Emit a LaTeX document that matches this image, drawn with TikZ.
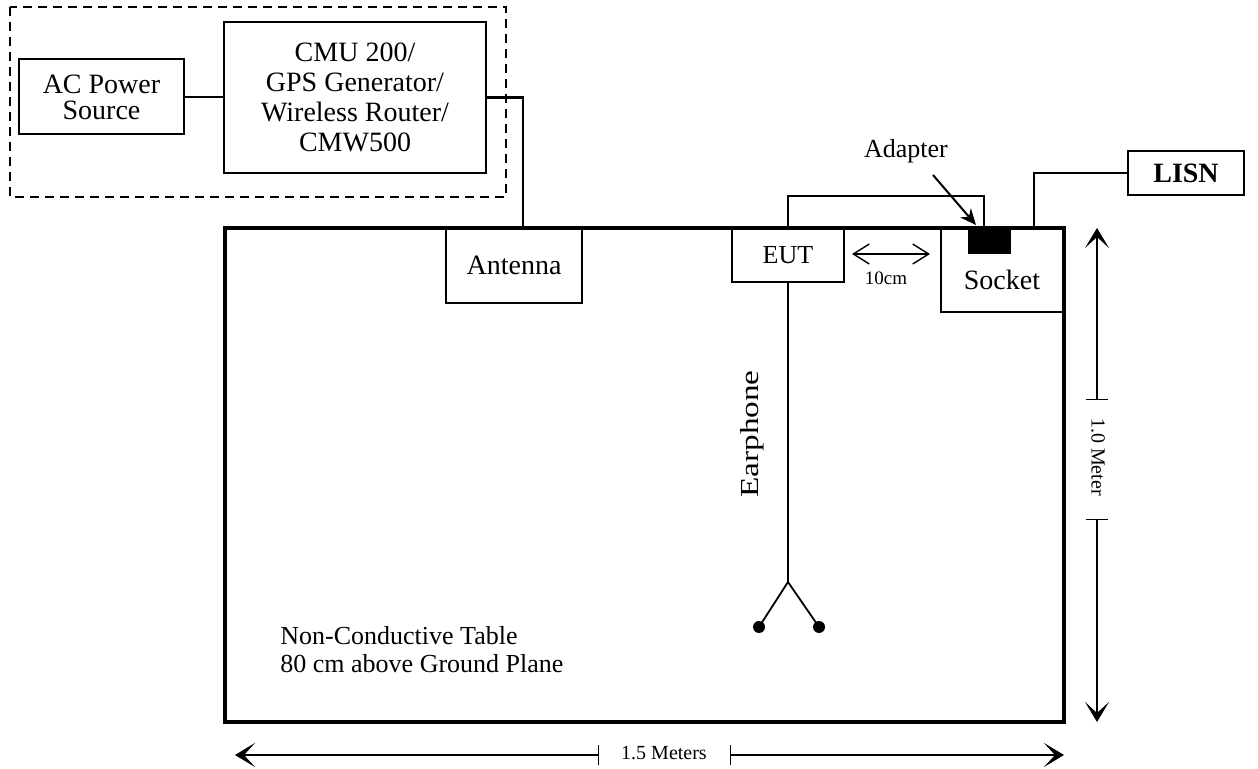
\documentclass[tikz,border=0pt]{standalone}
\usepackage{fontspec}
\setmainfont{Liberation Serif}
\usetikzlibrary{arrows.meta,calc}

\begin{document}
\begin{tikzpicture}[x=0.5pt,y=-0.5pt,
  box/.style={draw,line width=1pt,inner sep=0pt,align=center},
  bigtxt/.style={font=\fontsize{14}{15}\selectfont},
  midtxt/.style={font=\fontsize{13}{14}\selectfont},
  smalltxt/.style={font=\fontsize{10}{11}\selectfont},
  wire/.style={line width=1.2pt},
  dimline/.style={line width=0.7pt},
  dimtip/.tip={Stealth[length=10pt,width=12pt,inset=5.5pt]},
  gaptip/.tip={Straight Barb[length=8pt,width=10pt]}]
\useasboundingbox (0,0) rectangle (1258,769);

% test equipment
\node[box,font=\fontsize{14}{13}\selectfont,minimum width=82.5pt,minimum height=37.5pt] (ac) at (101.5,97) {AC Power\\Source};
\node[box,bigtxt,minimum width=131pt,minimum height=75.5pt] (cmu) at (355,97.5) {CMU 200/\\GPS Generator/\\Wireless Router/\\CMW500};
\draw[dashed,dash pattern=on 4.5pt off 3pt,line width=0.7pt] (10,7) rectangle (506,197);

% table and items on it
\node[draw,line width=1.8pt,minimum width=419.5pt,minimum height=247pt] (table) at (644.5,475) {};
\node[box,bigtxt,minimum width=68pt,minimum height=37.5pt] (ant) at (514,265.5) {Antenna};
\node[box,midtxt,minimum width=56pt,minimum height=26.5pt] (eut) at (788,255.5) {EUT};
\node[box,minimum width=61.5pt,minimum height=42pt] (sock) at (1002.5,270) {};
\node[bigtxt,anchor=base] (socktxt) at (1002,290) {Socket};
\node[fill=black,inner sep=0pt,minimum width=21.5pt,minimum height=13pt] (adp) at (989.5,241) {};
\node[box,font=\bfseries\fontsize{14}{15}\selectfont,minimum width=58pt,minimum height=22pt] (lisn) at (1186,173) {LISN};

\node[midtxt,anchor=base] (adptxt) at (906,158) {Adapter};
\coordinate (adpfrom) at (933,175);
\coordinate (adpto) at (976,225);
\draw[line width=1pt,-{Stealth[length=8pt,width=7pt]}] (adpfrom) -- (adpto);

% cables
\coordinate (antin) at (523,228);
\coordinate (eutloop) at (984,196);
\coordinate (sockin) at (1034,228);
\draw[wire] (ac.east) -- (ac.east -| cmu.west);
\draw[wire] (cmu.east) -| (antin);
\draw[wire] (eut.north) |- (eutloop) -- (eutloop |- adp.north);
\draw[wire] (sockin) |- (lisn.west);

% 10cm gap
\coordinate (gapl) at (852,254);
\coordinate (gapr) at (930,254);
\draw[dimline,gaptip-gaptip] (gapl) -- (gapr);
\node[font=\fontsize{9.5}{10}\selectfont] (gaptxt) at (886,278) {10cm};

% earphone
\coordinate (split) at (788,582);
\coordinate (plugl) at (759,627);
\coordinate (plugr) at (819,627);
\draw[line width=0.9pt] (eut.south) -- (split) -- (plugl) (split) -- (plugr);
\fill (plugl) circle (3pt) (plugr) circle (3pt);
\node[midtxt,rotate=90] (eartxt) at (752,434) {\scalebox{1.28}[1]{Earphone}};

\node[midtxt,align=left,anchor=west,inner sep=0pt] (tabtxt) at (280,650) {Non-Conductive Table\\80 cm above Ground Plane};

% dimensions
\coordinate (hl) at (235,755);
\coordinate (hlt) at (599,755);
\coordinate (hrt) at (730,755);
\coordinate (hr) at (1064,755);
\node[smalltxt] (hdim) at (664,753) {1.5 Meters};
\draw[dimline,{Bar[width=10pt]}-dimtip] (hlt) -- (hl);
\draw[dimline,{Bar[width=10pt]}-dimtip] (hrt) -- (hr);

\coordinate (vt) at (1097,228);
\coordinate (vtt) at (1097,400);
\coordinate (vbt) at (1097,519);
\coordinate (vb) at (1097,722);
\node[smalltxt,rotate=-90] (vdim) at (1098,457) {1.0 Meter};
\draw[dimline,{Bar[width=11pt]}-dimtip] (vtt) -- (vt);
\draw[dimline,{Bar[width=11pt]}-dimtip] (vbt) -- (vb);

\end{tikzpicture}
\end{document}
